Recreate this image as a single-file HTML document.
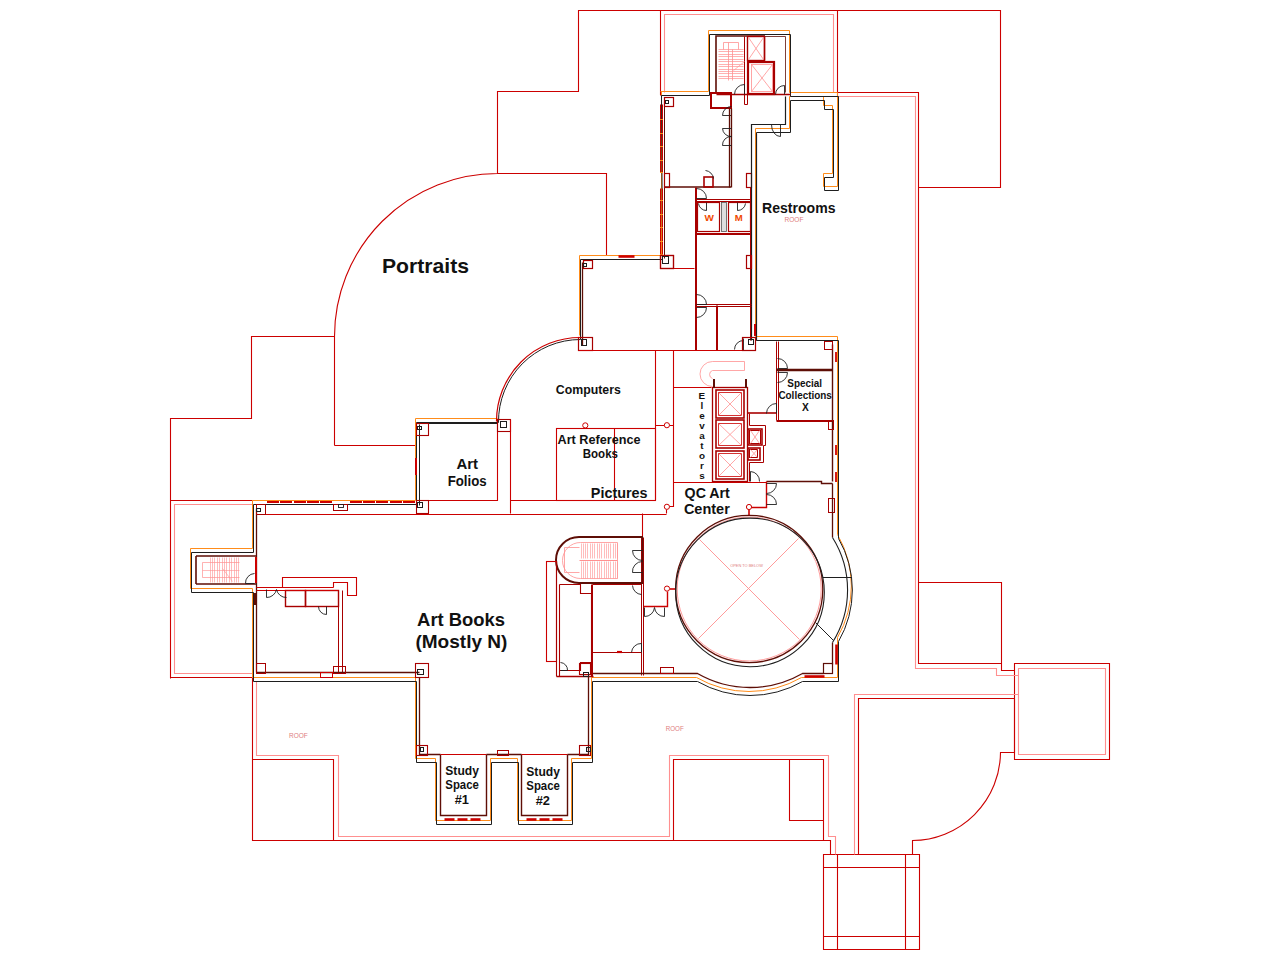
<!DOCTYPE html>
<html><head><meta charset="utf-8"><style>
html,body{margin:0;padding:0;background:#fff;}
svg{display:block;}
text{font-family:"Liberation Sans",sans-serif;}
</style></head><body>
<svg width="1280" height="960" viewBox="0 0 1280 960" shape-rendering="geometricPrecision">
<rect width="1280" height="960" fill="#fff"/>
<path d="M 170.5,678.5 V 418.5 H 251.5 V 336.5 H 334.5" stroke="#cc0000" stroke-width="1.1" fill="none" />
<path d="M 334.5,445.5 V 336.5 A 163,163 0 0 1 497.5,173.5 V 91.5 H 578.5 V 10.5 H 1000.5 V 187.5 H 918.5 V 663.5 H 1001.5 V 670.5 H 1014.5 V 663.5 H 1109.5 V 759.5 H 1014.5 V 663.5" stroke="#cc0000" stroke-width="1.1" fill="none" />
<path d="M 918.5,582.5 H 1001.5 V 663.5" stroke="#cc0000" stroke-width="1.1" fill="none" />
<path d="M 334.5,445.5 H 415.5" stroke="#cc0000" stroke-width="1.1" fill="none" />
<path d="M 497.5,173.5 H 606.5 V 255.5" stroke="#cc0000" stroke-width="1.1" fill="none" />
<path d="M 660.5,10.5 V 95.5" stroke="#cc0000" stroke-width="1.1" fill="none" />
<path d="M 837.5,10.5 V 96.5" stroke="#cc0000" stroke-width="1.1" fill="none" />
<path d="M 837.5,92.5 H 918.5 V 187.5" stroke="#cc0000" stroke-width="1.1" fill="none" />
<path d="M 170.5,500.5 H 252.5" stroke="#cc0000" stroke-width="1.1" fill="none" />
<path d="M 170.5,677.5 H 252.5" stroke="#cc0000" stroke-width="1.1" fill="none" />
<path d="M 252.5,677.5 V 840.5 H 830.5 V 854.5" stroke="#cc0000" stroke-width="1.1" fill="none" />
<path d="M 252.5,759.5 H 333.5 V 840.5" stroke="#cc0000" stroke-width="1.1" fill="none" />
<path d="M 673.5,840.5 V 759.5 H 823.5 V 840.5" stroke="#cc0000" stroke-width="1.1" fill="none" />
<path d="M 789.5,759.5 V 820.5 H 823.5" stroke="#cc0000" stroke-width="1.1" fill="none" />
<path d="M 1014.5,698.5 V 752.5 H 1000.5 A 88.6,88.6 0 0 1 912.5,840.5 V 854.5" stroke="#cc0000" stroke-width="1.1" fill="none" />
<path d="M 1014.5,698.5 H 858.5 V 854.5" stroke="#cc0000" stroke-width="1.1" fill="none" />
<path d="M 823.5,854.5 H 919.5 V 949.5 H 823.5 Z" stroke="#cc0000" stroke-width="1.1" fill="none" />
<path d="M 837.5,854.5 V 949.5 M 905.5,854.5 V 949.5 M 823.5,867.5 H 919.5 M 823.5,936.5 H 919.5" stroke="#cc0000" stroke-width="1.1" fill="none" />
<path d="M 664.5,92.5 V 14.5 H 833.5 V 92.5" stroke="#ff9090" stroke-width="1.1" fill="none" />
<path d="M 837.5,96.5 H 915.5 V 668.5 H 996.5 V 675.5 H 1018.5 V 668.5 H 1105.5 V 754.5 H 1018.5 V 668.5" stroke="#ff9090" stroke-width="1.1" fill="none" />
<path d="M 854.5,854.5 V 694.5 H 1018.5" stroke="#ff9090" stroke-width="1.1" fill="none" />
<path d="M 252.5,504.5 H 174.5 V 673.5 H 252.5" stroke="#ff9090" stroke-width="1.1" fill="none" />
<path d="M 256.5,681.5 V 755.5 H 338.5 V 836.5 H 669.5 V 755.5 H 828.5 V 836.5 H 835.5 V 854.5" stroke="#ff9090" stroke-width="1.1" fill="none" />
<path d="M 661.5,95.5 H 709.5 V 34.5 H 790.5 V 96.5 H 838.5 V 190.5 H 824.5 V 177.5 H 833.5 V 109.5 H 824.5 V 100.5 H 790.5 V 132.5 H 756.5 V 340.5 H 838.5 V 538.5 A 102.6,102.6 0 0 1 838.5,641.5 V 681.5 H 802.5 A 105.4,105.4 0 0 1 697.5,681.5 H 592.5 V 762.5 H 572.5 V 824.5 H 518.5 V 762.5 H 491.5 V 824.5 H 436.5 V 762.5 H 416.5 V 681.5 H 253.5 V 592.5 H 191.5 V 552.5 H 253.5 V 504.5 H 416.5 V 422.5 H 498.5 M 580.5,339.5 V 259.5 H 662.5 V 95.5" stroke="#ff8c1a" stroke-width="1.0" fill="none" transform="translate(-1,-4)"/>
<path d="M 661.5,95.5 H 709.5 V 34.5 H 790.5 V 96.5 H 838.5 V 190.5 H 824.5 V 177.5 H 833.5 V 109.5 H 824.5 V 100.5 H 790.5 V 132.5 H 756.5 V 340.5 H 838.5 V 538.5 A 102.6,102.6 0 0 1 838.5,641.5 V 681.5 H 802.5 A 105.4,105.4 0 0 1 697.5,681.5 H 592.5 V 762.5 H 572.5 V 824.5 H 518.5 V 762.5 H 491.5 V 824.5 H 436.5 V 762.5 H 416.5 V 681.5 H 253.5 V 592.5 H 191.5 V 552.5 H 253.5 V 504.5 H 416.5 V 422.5 H 498.5 A 82,82 0 0 1 580.5,339.5 V 259.5 H 662.5 Z" stroke="#1e1e1e" stroke-width="1.0" fill="none" />
<path d="M 716,92 V 36 H 765" stroke="#5e0e06" stroke-width="1.6" fill="none" />
<path d="M 764.5,36.5 H 785.5 V 92.5" stroke="#5e0e06" stroke-width="0.8" fill="none" />
<path d="M 744.5,36.5 V 104.5 M 747.5,36.5 V 104.5 M 744.5,104.5 H 747.5" stroke="#a80000" stroke-width="1.0" fill="none" />
<rect x="747.5" y="36.5" width="17" height="24" stroke="#a80000" stroke-width="1.4" fill="none"/>
<path d="M 748.5,37.5 L 763.5,59.5 M 763.5,37.5 L 748.5,59.5" stroke="#ff9090" stroke-width="0.8" fill="none" />
<rect x="748" y="62" width="26" height="32" stroke="#a80000" stroke-width="2.2" fill="none"/>
<rect x="751.5" y="64.5" width="21" height="27" stroke="#ff9090" stroke-width="0.8" fill="none"/>
<path d="M 751.5,64.5 L 772.5,91.5 M 772.5,64.5 L 751.5,91.5" stroke="#ff9090" stroke-width="0.8" fill="none" />
<path d="M 764.5,36.5 V 60.5" stroke="#a80000" stroke-width="1.4" fill="none" />
<path d="M 718.5,49.5 H 743.5" stroke="#ff9090" stroke-width="0.7" fill="none" />
<path d="M 718.5,51.5 H 743.5" stroke="#ff9090" stroke-width="0.7" fill="none" />
<path d="M 718.5,54.5 H 743.5" stroke="#ff9090" stroke-width="0.7" fill="none" />
<path d="M 718.5,56.5 H 743.5" stroke="#ff9090" stroke-width="0.7" fill="none" />
<path d="M 718.5,59.5 H 743.5" stroke="#ff9090" stroke-width="0.7" fill="none" />
<path d="M 718.5,61.5 H 743.5" stroke="#ff9090" stroke-width="0.7" fill="none" />
<path d="M 718.5,64.5 H 743.5" stroke="#ff9090" stroke-width="0.7" fill="none" />
<path d="M 718.5,66.5 H 743.5" stroke="#ff9090" stroke-width="0.7" fill="none" />
<path d="M 718.5,69.5 H 743.5" stroke="#ff9090" stroke-width="0.7" fill="none" />
<path d="M 718.5,71.5 H 743.5" stroke="#ff9090" stroke-width="0.7" fill="none" />
<path d="M 718.5,73.5 H 743.5" stroke="#ff9090" stroke-width="0.7" fill="none" />
<path d="M 718.5,76.5 H 743.5" stroke="#ff9090" stroke-width="0.7" fill="none" />
<path d="M 718.5,78.5 H 743.5" stroke="#ff9090" stroke-width="0.7" fill="none" />
<path d="M 723.5,49.5 V 42.5 H 738.5 V 49.5" stroke="#ff9090" stroke-width="0.8" fill="none" />
<path d="M 728.5,42.5 V 80.5 M 732.5,49.5 V 80.5" stroke="#ff9090" stroke-width="0.8" fill="none" />
<path d="M 733.5,70.5 L 744.5,61.5" stroke="#ff9090" stroke-width="0.7" fill="none" />
<path d="M 716.5,94.5 H 790.5" stroke="#a80000" stroke-width="1.4" fill="none" />
<rect x="711" y="93" width="20" height="15" stroke="#a80000" stroke-width="2.0" fill="none"/>
<path d="M 744.5,84.5 V 94.5 M 744.5,84.5 A 10,10 0 0 0 734.5,94.5" stroke="#1e1e1e" stroke-width="0.9" fill="none" />
<path d="M 784.5,85.5 V 94.5 M 784.5,85.5 A 9,9 0 0 0 775.5,94.5" stroke="#1e1e1e" stroke-width="0.9" fill="none" />
<path d="M 731.5,106.5 A 9,9 0 0 0 722.5,115.5 H 731.5" stroke="#1e1e1e" stroke-width="0.9" fill="none" />
<path d="M 664.5,100.5 V 258.5" stroke="#5e0e06" stroke-width="1.0" fill="none" />
<path d="M 660.5,104.5 V 172.5 M 662.5,104.5 V 172.5" stroke="#cc0000" stroke-width="1.0" fill="none" />
<path d="M 660.5,188.5 V 254.5 M 662.5,188.5 V 254.5" stroke="#cc0000" stroke-width="1.0" fill="none" />
<rect x="660" y="119" width="3" height="1" fill="#ff8c1a"/>
<rect x="660" y="133" width="3" height="1" fill="#ff8c1a"/>
<rect x="660" y="146" width="3" height="1" fill="#ff8c1a"/>
<rect x="660" y="160" width="3" height="1" fill="#ff8c1a"/>
<rect x="660" y="172" width="3" height="1" fill="#ff8c1a"/>
<rect x="660" y="200" width="3" height="1" fill="#ff8c1a"/>
<rect x="660" y="214" width="3" height="1" fill="#ff8c1a"/>
<rect x="660" y="227" width="3" height="1" fill="#ff8c1a"/>
<rect x="660" y="241" width="3" height="1" fill="#ff8c1a"/>
<rect x="660" y="254" width="3" height="1" fill="#ff8c1a"/>
<path d="M 731.5,108.5 V 187.5 M 729.5,108.5 V 187.5" stroke="#5e0e06" stroke-width="1.3" fill="none" />
<path d="M 665,187 H 731" stroke="#5e0e06" stroke-width="1.6" fill="none" />
<path d="M 695.5,187.5 V 350.5 M 696.5,187.5 V 350.5" stroke="#a80000" stroke-width="1.0" fill="none" />
<rect x="664.5" y="97.5" width="9" height="9" stroke="#a80000" stroke-width="1.2" fill="none"/>
<rect x="664.5" y="173.5" width="5" height="14" stroke="#a80000" stroke-width="1.2" fill="none"/>
<rect x="704" y="177" width="9" height="10" stroke="#a80000" stroke-width="1.6" fill="none"/>
<rect x="746.5" y="173.5" width="5" height="14" stroke="#a80000" stroke-width="1.2" fill="none"/>
<path d="M 785.5,96.5 V 124.5 H 751.5 V 340.5" stroke="#1e1e1e" stroke-width="1.2" fill="none" />
<path d="M 750.5,187.5 V 340.5" stroke="#a80000" stroke-width="1.0" fill="none" />
<path d="M 756.5,133.5 V 340.5" stroke="#1e1e1e" stroke-width="1.2" fill="none" />
<path d="M 731.5,128.5 H 722.5 A 8.5,8.5 0 0 0 731.5,136.5 M 731.5,145.5 H 722.5 A 8.5,8.5 0 0 1 731.5,136.5" stroke="#1e1e1e" stroke-width="0.9" fill="none" />
<path d="M 705.5,170.5 A 9,9 0 0 1 713.5,178.5" stroke="#1e1e1e" stroke-width="0.9" fill="none" />
<path d="M 696.5,188.5 A 10,10 0 0 1 706.5,198.5 H 696.5" stroke="#1e1e1e" stroke-width="0.9" fill="none" />
<path d="M 780.5,124.5 V 136.5 M 771.5,124.5 A 9,11.6 0 0 0 780.5,136.5" stroke="#1e1e1e" stroke-width="0.9" fill="none" />
<path d="M 695.5,199.5 H 750.5 M 695.5,201.5 H 750.5" stroke="#a80000" stroke-width="1.0" fill="none" />
<rect x="697.5" y="202.5" width="22" height="29" stroke="#a80000" stroke-width="1.2" fill="none"/>
<rect x="721.5" y="202.5" width="5" height="29" stroke="#555" stroke-width="0.8" fill="#ddd"/>
<rect x="728.5" y="202.5" width="22" height="29" stroke="#a80000" stroke-width="1.2" fill="none"/>
<path d="M 695.5,233.5 H 750.5 M 695.5,234.5 H 750.5" stroke="#a80000" stroke-width="1.0" fill="none" />
<path d="M 698.5,203.5 A 8,8 0 0 0 706.5,210.5 V 202.5" stroke="#1e1e1e" stroke-width="0.9" fill="none" />
<path d="M 745.5,203.5 A 8,8 0 0 1 737.5,210.5 V 202.5" stroke="#1e1e1e" stroke-width="0.9" fill="none" />
<text x="709.2" y="221.3" font-size="9.6" font-weight="bold" fill="#f04800" textLength="9.4" lengthAdjust="spacingAndGlyphs" text-anchor="middle" >W</text>
<text x="738.8" y="221.3" font-size="9.6" font-weight="bold" fill="#f04800" text-anchor="middle" >M</text>
<rect x="746.5" y="255.5" width="5" height="13" stroke="#a80000" stroke-width="1.2" fill="none"/>
<rect x="660.5" y="255.5" width="13" height="13" stroke="#a80000" stroke-width="1.2" fill="none"/>
<path d="M 673.5,268.5 H 694.5" stroke="#cc0000" stroke-width="1.0" fill="none" />
<path d="M 695.5,304.5 H 751.5 M 695.5,306.5 H 751.5" stroke="#a80000" stroke-width="1.0" fill="none" />
<path d="M 716.5,305.5 V 350.5 M 717.5,305.5 V 350.5" stroke="#a80000" stroke-width="1.0" fill="none" />
<path d="M 696.5,294.5 A 10,10 0 0 1 706.5,304.5 H 696.5 M 696.5,317.5 A 10,10 0 0 0 706.5,307.5 H 696.5" stroke="#1e1e1e" stroke-width="0.9" fill="none" />
<path d="M 743.5,340.5 A 9,9 0 0 0 734.5,349.5 M 743.5,338.5 V 350.5" stroke="#1e1e1e" stroke-width="0.9" fill="none" />
<path d="M 755,324 V 336" stroke="#cc0000" stroke-width="2.0" fill="none" />
<path d="M 582.5,262.5 V 345.5" stroke="#5e0e06" stroke-width="1.3" fill="none" />
<rect x="583.5" y="260.5" width="9" height="8" stroke="#a80000" stroke-width="1.2" fill="none"/>
<rect x="578.5" y="337.5" width="14" height="13" stroke="#a80000" stroke-width="1.2" fill="none"/>
<rect x="660.5" y="255.5" width="13" height="13" stroke="#a80000" stroke-width="1.2" fill="none"/>
<path d="M 618.5,256.5 H 634.5" stroke="#cc0000" stroke-width="2.6" fill="none" />
<path d="M 578.5,350.5 H 755.5" stroke="#cc0000" stroke-width="1.1" fill="none" />
<rect x="742.5" y="337.5" width="13" height="13" stroke="#a80000" stroke-width="1.2" fill="none"/>
<path d="M 496.5,421.5 A 83.7,83.7 0 0 1 580.5,337.5" stroke="#cc0000" stroke-width="1.2" fill="none" />
<path d="M 419.5,424.5 V 505.5" stroke="#1e1e1e" stroke-width="1.0" fill="none" />
<path d="M 417.5,423.5 H 497.5" stroke="#1e1e1e" stroke-width="1.0" fill="none" />
<path d="M 497.5,423.5 V 500.5 H 428.5" stroke="#cc0000" stroke-width="1.1" fill="none" />
<rect x="416.5" y="423.5" width="12" height="12" stroke="#a80000" stroke-width="1.1" fill="none"/>
<rect x="416.5" y="500.5" width="12" height="13" stroke="#a80000" stroke-width="1.1" fill="none"/>
<rect x="497.5" y="419.5" width="13" height="12" stroke="#a80000" stroke-width="1.1" fill="none"/>
<path d="M 510.5,419.5 V 513.5" stroke="#cc0000" stroke-width="1.1" fill="none" />
<path d="M 256.5,514.5 H 666.5" stroke="#cc0000" stroke-width="1.1" fill="none" />
<path d="M 642.5,513.5 V 537.5" stroke="#cc0000" stroke-width="1.1" fill="none" />
<path d="M 655.5,350.5 V 500.5 M 673.5,350.5 V 506.5 H 669.5" stroke="#cc0000" stroke-width="1.1" fill="none" />
<path d="M 655.5,425.5 H 664.5 M 669.5,425.5 H 673.5" stroke="#cc0000" stroke-width="1.1" fill="none" />
<circle cx="666.9" cy="425.2" r="2.6" stroke="#cc0000" stroke-width="1" fill="#fff"/>
<circle cx="585.3" cy="425.4" r="2.6" stroke="#cc0000" stroke-width="1" fill="#fff"/>
<path d="M 666.5,509.5 V 513.5" stroke="#cc0000" stroke-width="1.1" fill="none" />
<circle cx="666.9" cy="506.8" r="2.6" stroke="#cc0000" stroke-width="1" fill="#fff"/>
<rect x="556.5" y="428.5" width="99" height="72" stroke="#cc0000" stroke-width="1.1" fill="none"/>
<path d="M 614.5,428.5 V 500.5" stroke="#cc0000" stroke-width="1.1" fill="none" />
<path d="M 510.5,500.5 H 556.5" stroke="#cc0000" stroke-width="1.1" fill="none" />
<path d="M 416,458 V 475" stroke="#cc0000" stroke-width="2.0" fill="none" />
<path d="M 673.5,387.5 H 711.5" stroke="#cc0000" stroke-width="1.1" fill="none" />
<path d="M 673.5,482.5 H 766.5" stroke="#cc0000" stroke-width="1.1" fill="none" />
<rect x="712.5" y="387.5" width="35" height="94" stroke="#a80000" stroke-width="1.3" fill="none"/>
<path d="M 714,379 V 388 M 746,379 V 388" stroke="#5e0e06" stroke-width="2.0" fill="none" />
<rect x="716" y="390" width="28" height="28" stroke="#a80000" stroke-width="1.6" fill="none"/>
<rect x="718.5" y="392.5" width="23" height="23" stroke="#cc0000" stroke-width="0.8" fill="none"/>
<path d="M 718.5,392.5 L 741.5,415.5 M 741.5,392.5 L 718.5,415.5" stroke="#ff9090" stroke-width="0.8" fill="none" />
<rect x="716" y="420" width="28" height="28" stroke="#a80000" stroke-width="1.6" fill="none"/>
<rect x="718.5" y="423.5" width="23" height="22" stroke="#cc0000" stroke-width="0.8" fill="none"/>
<path d="M 718.5,423.5 L 741.5,445.5 M 741.5,423.5 L 718.5,445.5" stroke="#ff9090" stroke-width="0.8" fill="none" />
<rect x="716" y="451" width="28" height="28" stroke="#a80000" stroke-width="1.6" fill="none"/>
<rect x="718.5" y="453.5" width="23" height="23" stroke="#cc0000" stroke-width="0.8" fill="none"/>
<path d="M 718.5,453.5 L 741.5,476.5 M 741.5,453.5 L 718.5,476.5" stroke="#ff9090" stroke-width="0.8" fill="none" />
<rect x="748" y="429" width="14" height="16" stroke="#a80000" stroke-width="1.6" fill="none"/>
<rect x="749.5" y="430.5" width="11" height="13" stroke="#a80000" stroke-width="1.0" fill="none"/>
<path d="M 750.5,430.5 L 759.5,443.5 M 759.5,430.5 L 750.5,443.5" stroke="#ff9090" stroke-width="0.8" fill="none" />
<rect x="748" y="448" width="12" height="12" stroke="#a80000" stroke-width="1.6" fill="none"/>
<rect x="749.5" y="449.5" width="8" height="8" stroke="#a80000" stroke-width="1.0" fill="none"/>
<path d="M 750.5,449.5 L 757.5,457.5 M 757.5,449.5 L 750.5,457.5" stroke="#ff9090" stroke-width="0.8" fill="none" />
<path d="M 748,413 H 776" stroke="#a80000" stroke-width="1.6" fill="none" />
<path d="M 749.5,413.5 V 425.5 H 765.5 V 445.5 H 763.5 V 462.5 H 749.5 V 481.5" stroke="#a80000" stroke-width="1.0" fill="none" />
<path d="M 750.5,471.5 V 481.5 M 750.5,471.5 A 9.5,9.5 0 0 1 759.5,481.5" stroke="#1e1e1e" stroke-width="0.9" fill="none" />
<path d="M 744.5,361.5 H 712.5 A 12.5,12.5 0 0 0 712.5,386.5" stroke="#ff9090" stroke-width="0.8" fill="none" />
<path d="M 744.5,361.5 V 370.5 H 712.5 A 4.2,4.2 0 0 0 712.5,378.5" stroke="#ff9090" stroke-width="0.8" fill="none" />
<path d="M 776.5,341.5 V 420.5 M 778.5,341.5 V 420.5" stroke="#a80000" stroke-width="1.0" fill="none" />
<path d="M 776.5,369.5 H 832.5 M 776.5,370.5 H 832.5" stroke="#5e0e06" stroke-width="1.3" fill="none" />
<path d="M 776.5,420.5 H 832.5 M 776.5,421.5 H 832.5" stroke="#a80000" stroke-width="1.0" fill="none" />
<path d="M 832.5,344.5 V 481.5" stroke="#5e0e06" stroke-width="1.4" fill="none" />
<path d="M 777.5,358.5 A 10,10 0 0 1 787.5,368.5 H 777.5 M 777.5,382.5 A 10,10 0 0 0 787.5,372.5 H 777.5" stroke="#1e1e1e" stroke-width="0.9" fill="none" />
<path d="M 776.5,403.5 A 10,10 0 0 0 766.5,413.5 M 776.5,403.5 V 413.5" stroke="#1e1e1e" stroke-width="0.9" fill="none" />
<path d="M 766.5,481.5 H 821.5 V 483.5 H 832.5" stroke="#5e0e06" stroke-width="1.4" fill="none" />
<rect x="828.5" y="420.5" width="5" height="9" stroke="#a80000" stroke-width="1.0" fill="none"/>
<path d="M 836,352 V 362" stroke="#cc0000" stroke-width="1.8" fill="none" />
<path d="M 836,445 V 455" stroke="#cc0000" stroke-width="1.8" fill="none" />
<path d="M 836,472 V 482" stroke="#cc0000" stroke-width="1.8" fill="none" />
<rect x="824.5" y="341.5" width="8" height="8" stroke="#a80000" stroke-width="1.0" fill="none"/>
<path d="M 766.5,481.5 V 507.5 H 751.5" stroke="#cc0000" stroke-width="1.4" fill="none" />
<circle cx="749" cy="507" r="2.6" stroke="#cc0000" stroke-width="1" fill="#fff"/>
<path d="M 749,510 V 515" stroke="#cc0000" stroke-width="1.6" fill="none" />
<path d="M 766.5,483.5 H 776.5 A 9.9,9.9 0 0 1 766.5,493.5 M 766.5,504.5 H 776.5 A 9.9,9.9 0 0 0 766.5,494.5" stroke="#1e1e1e" stroke-width="0.9" fill="none" />
<rect x="828.5" y="498.5" width="6" height="14" stroke="#a80000" stroke-width="1.0" fill="none"/>
<path d="M 832.5,483.5 V 537.5 M 832.5,642.5 V 664.5" stroke="#5e0e06" stroke-width="1.3" fill="none" />
<path d="M 641.5,537.5 V 675.5 M 643.5,537.5 V 675.5" stroke="#a80000" stroke-width="1.0" fill="none" />
<path d="M 643.5,606.5 H 667.5 V 591.5" stroke="#cc0000" stroke-width="1.4" fill="none" />
<circle cx="667" cy="588.6" r="2.6" stroke="#cc0000" stroke-width="1" fill="#fff"/>
<path d="M 670,589 H 676" stroke="#cc0000" stroke-width="1.6" fill="none" />
<path d="M 644.5,607.5 V 616.5 A 9.8,9.8 0 0 0 654.5,607.5 M 664.5,607.5 V 616.5 A 9.8,9.8 0 0 1 654.5,607.5" stroke="#1e1e1e" stroke-width="0.9" fill="none" />
<circle cx="749.2" cy="589" r="72" stroke="#ff9090" stroke-width="0.9" fill="none"/>
<circle cx="749.2" cy="589" r="73.6" stroke="#5e0e06" stroke-width="1.3" fill="none"/>
<circle cx="750" cy="592.4" r="74.3" stroke="#1e1e1e" stroke-width="1.1" fill="none"/>
<path d="M 699.5,539.5 L 799.5,639.5 M 798.5,538.5 L 698.5,638.5" stroke="#ff9090" stroke-width="0.9" fill="none" />
<text x="746.5" y="566.5" font-size="3.8" font-weight="normal" fill="#e08080" textLength="32.7" lengthAdjust="spacingAndGlyphs" text-anchor="middle" >OPEN TO BELOW</text>
<path d="M 822.5,577.5 H 851.5" stroke="#1e1e1e" stroke-width="1.0" fill="none" />
<path d="M 815.5,622.5 L 833.5,640.5" stroke="#1e1e1e" stroke-width="1.0" fill="none" />
<path d="M 832.5,537.5 A 99,99 0 0 1 832.5,642.5" stroke="#1e1e1e" stroke-width="1.1" fill="none" />
<path d="M 836.5,644.5 V 664.5" stroke="#cc0000" stroke-width="2.6" fill="none" />
<rect x="823.5" y="663.5" width="9" height="10" stroke="#5e0e06" stroke-width="1.2" fill="none"/>
<path d="M 804.5,676.5 H 824.5" stroke="#cc0000" stroke-width="2.6" fill="none" />
<path d="M 592.5,673.5 H 697.5 A 105.4,105.4 0 0 0 802.5,673.5 H 823.5" stroke="#5e0e06" stroke-width="1.3" fill="none" />
<path d="M 643,537 H 579 A 23,23 0 0 0 579,583 H 643" stroke="#5e0e06" stroke-width="2.0" fill="none" />
<path d="M 617.5,542.5 H 580.5 A 17.6,17.6 0 0 0 580.5,578.5 H 617.5" stroke="#ff9090" stroke-width="0.8" fill="none" />
<path d="M 579.5,547.5 H 564.5 V 572.5 H 579.5" stroke="#ff9090" stroke-width="0.8" fill="none" />
<path d="M 581.5,543.5 V 558.5 M 581.5,561.5 V 578.5" stroke="#ff9090" stroke-width="0.6" fill="none" />
<path d="M 583.5,543.5 V 558.5 M 583.5,561.5 V 578.5" stroke="#ff9090" stroke-width="0.6" fill="none" />
<path d="M 585.5,543.5 V 558.5 M 585.5,561.5 V 578.5" stroke="#ff9090" stroke-width="0.6" fill="none" />
<path d="M 587.5,543.5 V 558.5 M 587.5,561.5 V 578.5" stroke="#ff9090" stroke-width="0.6" fill="none" />
<path d="M 590.5,543.5 V 558.5 M 590.5,561.5 V 578.5" stroke="#ff9090" stroke-width="0.6" fill="none" />
<path d="M 592.5,543.5 V 558.5 M 592.5,561.5 V 578.5" stroke="#ff9090" stroke-width="0.6" fill="none" />
<path d="M 594.5,543.5 V 558.5 M 594.5,561.5 V 578.5" stroke="#ff9090" stroke-width="0.6" fill="none" />
<path d="M 597.5,543.5 V 558.5 M 597.5,561.5 V 578.5" stroke="#ff9090" stroke-width="0.6" fill="none" />
<path d="M 599.5,543.5 V 558.5 M 599.5,561.5 V 578.5" stroke="#ff9090" stroke-width="0.6" fill="none" />
<path d="M 601.5,543.5 V 558.5 M 601.5,561.5 V 578.5" stroke="#ff9090" stroke-width="0.6" fill="none" />
<path d="M 604.5,543.5 V 558.5 M 604.5,561.5 V 578.5" stroke="#ff9090" stroke-width="0.6" fill="none" />
<path d="M 606.5,543.5 V 558.5 M 606.5,561.5 V 578.5" stroke="#ff9090" stroke-width="0.6" fill="none" />
<path d="M 608.5,543.5 V 558.5 M 608.5,561.5 V 578.5" stroke="#ff9090" stroke-width="0.6" fill="none" />
<path d="M 610.5,543.5 V 558.5 M 610.5,561.5 V 578.5" stroke="#ff9090" stroke-width="0.6" fill="none" />
<path d="M 613.5,543.5 V 558.5 M 613.5,561.5 V 578.5" stroke="#ff9090" stroke-width="0.6" fill="none" />
<path d="M 615.5,543.5 V 558.5 M 615.5,561.5 V 578.5" stroke="#ff9090" stroke-width="0.6" fill="none" />
<path d="M 617.5,543.5 V 558.5 M 617.5,561.5 V 578.5" stroke="#ff9090" stroke-width="0.6" fill="none" />
<path d="M 579.5,560.5 H 617.5" stroke="#ff9090" stroke-width="1.2" fill="none" />
<path d="M 617.5,542.5 V 578.5" stroke="#ff9090" stroke-width="0.8" fill="none" />
<path d="M 642.5,537.5 V 583.5" stroke="#5e0e06" stroke-width="1.4" fill="none" />
<rect x="546.5" y="561.5" width="10" height="100" stroke="#cc0000" stroke-width="1.1" fill="none"/>
<path d="M 556.5,561.5 V 676.5 M 559.5,584.5 V 676.5" stroke="#a80000" stroke-width="1.1" fill="none" />
<path d="M 559.5,584.5 H 580.5 V 593.5 H 591.5 V 662.5 H 580.5 V 670.5 H 559.5" stroke="#a80000" stroke-width="1.1" fill="none" />
<path d="M 591.5,584.5 V 676.5 M 592.5,584.5 V 676.5" stroke="#a80000" stroke-width="1.0" fill="none" />
<path d="M 592.5,584.5 H 641.5 M 592.5,652.5 H 641.5" stroke="#a80000" stroke-width="1.1" fill="none" />
<path d="M 556.5,676.5 H 593.5" stroke="#a80000" stroke-width="1.3" fill="none" />
<path d="M 632.5,550.5 A 10,10 0 0 0 642.5,560.5 M 632.5,550.5 H 642.5 M 632.5,572.5 A 10,10 0 0 1 642.5,561.5 M 632.5,572.5 H 642.5" stroke="#1e1e1e" stroke-width="0.9" fill="none" />
<path d="M 632.5,585.5 A 9.5,9.5 0 0 0 641.5,594.5" stroke="#1e1e1e" stroke-width="0.9" fill="none" />
<path d="M 641.5,643.5 A 9.6,9.6 0 0 0 631.5,652.5 M 641.5,643.5 V 652.5" stroke="#1e1e1e" stroke-width="0.9" fill="none" />
<path d="M 560.5,662.5 A 7.5,7.5 0 0 1 567.5,670.5 H 560.5" stroke="#1e1e1e" stroke-width="0.9" fill="none" />
<path d="M 617,652 H 622" stroke="#cc0000" stroke-width="2.2" fill="none" />
<path d="M 267,502 H 279" stroke="#cc0000" stroke-width="2.0" fill="none" />
<path d="M 280,502 H 292" stroke="#cc0000" stroke-width="2.0" fill="none" />
<path d="M 294,502 H 306" stroke="#cc0000" stroke-width="2.0" fill="none" />
<path d="M 307,502 H 319" stroke="#cc0000" stroke-width="2.0" fill="none" />
<path d="M 320,502 H 332" stroke="#cc0000" stroke-width="2.0" fill="none" />
<path d="M 350,502 H 362" stroke="#cc0000" stroke-width="2.0" fill="none" />
<path d="M 363,502 H 375" stroke="#cc0000" stroke-width="2.0" fill="none" />
<path d="M 376,502 H 388" stroke="#cc0000" stroke-width="2.0" fill="none" />
<path d="M 390,502 H 402" stroke="#cc0000" stroke-width="2.0" fill="none" />
<path d="M 403,502 H 415" stroke="#cc0000" stroke-width="2.0" fill="none" />
<rect x="333.5" y="504.5" width="14" height="6" stroke="#a80000" stroke-width="1.0" fill="none"/>
<rect x="338.5" y="504.5" width="5" height="3" stroke="#1e1e1e" stroke-width="0.9" fill="none"/>
<path d="M 256.5,508.5 V 672.5" stroke="#5e0e06" stroke-width="1.3" fill="none" />
<rect x="256.5" y="504.5" width="9" height="10" stroke="#a80000" stroke-width="1.0" fill="none"/>
<path d="M 196,556 H 256 M 196,584 H 256 M 196,556 V 584" stroke="#5e0e06" stroke-width="1.6" fill="none" />
<path d="M 256,557 V 583" stroke="#cc0000" stroke-width="2.0" fill="none" />
<path d="M 210.5,557.5 V 582.5" stroke="#ff9090" stroke-width="0.6" fill="none" />
<path d="M 212.5,557.5 V 582.5" stroke="#ff9090" stroke-width="0.6" fill="none" />
<path d="M 214.5,557.5 V 582.5" stroke="#ff9090" stroke-width="0.6" fill="none" />
<path d="M 217.5,557.5 V 582.5" stroke="#ff9090" stroke-width="0.6" fill="none" />
<path d="M 219.5,557.5 V 582.5" stroke="#ff9090" stroke-width="0.6" fill="none" />
<path d="M 222.5,557.5 V 582.5" stroke="#ff9090" stroke-width="0.6" fill="none" />
<path d="M 224.5,557.5 V 582.5" stroke="#ff9090" stroke-width="0.6" fill="none" />
<path d="M 226.5,557.5 V 582.5" stroke="#ff9090" stroke-width="0.6" fill="none" />
<path d="M 229.5,557.5 V 582.5" stroke="#ff9090" stroke-width="0.6" fill="none" />
<path d="M 231.5,557.5 V 582.5" stroke="#ff9090" stroke-width="0.6" fill="none" />
<path d="M 234.5,557.5 V 582.5" stroke="#ff9090" stroke-width="0.6" fill="none" />
<path d="M 236.5,557.5 V 582.5" stroke="#ff9090" stroke-width="0.6" fill="none" />
<path d="M 238.5,557.5 V 582.5" stroke="#ff9090" stroke-width="0.6" fill="none" />
<path d="M 202.5,562.5 H 239.5 M 202.5,577.5 H 239.5 M 202.5,562.5 V 577.5" stroke="#ff9090" stroke-width="0.7" fill="none" />
<path d="M 222.5,568.5 L 232.5,581.5 M 202.5,570.5 H 239.5" stroke="#ff9090" stroke-width="0.6" fill="none" />
<path d="M 254.5,573.5 A 9.5,9.5 0 0 0 245.5,583.5 H 254.5" stroke="#1e1e1e" stroke-width="0.9" fill="none" />
<path d="M 255,593 V 605" stroke="#5e0e06" stroke-width="2.2" fill="none" />
<path d="M 282.5,587.5 V 577.5 H 356.5 V 595.5 H 347.5 V 582.5 H 333.5 V 587.5" stroke="#cc0000" stroke-width="1.1" fill="none" />
<rect x="285.5" y="590.5" width="20" height="16" stroke="#a80000" stroke-width="1.4" fill="none"/>
<rect x="305.5" y="590.5" width="33" height="16" stroke="#a80000" stroke-width="1.4" fill="none"/>
<path d="M 256.5,587.5 H 333.5 M 256.5,590.5 H 338.5" stroke="#cc0000" stroke-width="1.0" fill="none" />
<path d="M 338.5,590.5 V 672.5 M 342.5,590.5 V 672.5" stroke="#a80000" stroke-width="1.0" fill="none" />
<path d="M 266.5,589.5 V 597.5 A 10,10 0 0 0 276.5,589.5 M 286.5,597.5 A 10,10 0 0 1 276.5,589.5" stroke="#1e1e1e" stroke-width="0.9" fill="none" />
<path d="M 318.5,606.5 A 8,8 0 0 0 326.5,614.5 V 606.5" stroke="#1e1e1e" stroke-width="0.9" fill="none" />
<path d="M 256.5,672.5 H 419.5" stroke="#5e0e06" stroke-width="1.3" fill="none" />
<rect x="320.5" y="672.5" width="12" height="5" stroke="#cc0000" stroke-width="1.0" fill="none"/>
<rect x="256.5" y="663.5" width="9" height="10" stroke="#a80000" stroke-width="1.0" fill="none"/>
<rect x="333.5" y="666.5" width="12" height="7" stroke="#a80000" stroke-width="1.0" fill="none"/>
<rect x="415.5" y="663.5" width="13" height="14" stroke="#a80000" stroke-width="1.1" fill="none"/>
<rect x="417.5" y="669.5" width="6" height="5" stroke="#1e1e1e" stroke-width="0.9" fill="none"/>
<path d="M 419.5,677.5 V 754.5 H 440.5" stroke="#5e0e06" stroke-width="1.3" fill="none" />
<rect x="416.5" y="745.5" width="11" height="10" stroke="#a80000" stroke-width="1.1" fill="none"/>
<path d="M 440.5,754.5 V 815.5 H 486.5 V 754.5" stroke="#5e0e06" stroke-width="1.4" fill="none" />
<path d="M 521.5,754.5 V 815.5 H 567.5 V 754.5" stroke="#5e0e06" stroke-width="1.4" fill="none" />
<path d="M 440.5,754.5 H 486.5 M 521.5,754.5 H 567.5" stroke="#cc0000" stroke-width="1.1" fill="none" />
<path d="M 486.5,754.5 H 521.5" stroke="#5e0e06" stroke-width="1.3" fill="none" />
<rect x="497.5" y="750.5" width="11" height="5" stroke="#a80000" stroke-width="1.0" fill="none"/>
<path d="M 567.5,754.5 H 588.5 V 676.5" stroke="#5e0e06" stroke-width="1.3" fill="none" />
<rect x="579.5" y="745.5" width="11" height="10" stroke="#a80000" stroke-width="1.1" fill="none"/>
<rect x="579.5" y="663.5" width="11" height="11" stroke="#a80000" stroke-width="1.1" fill="none"/>
<rect x="660.5" y="667.5" width="13" height="6" stroke="#a80000" stroke-width="1.0" fill="none"/>
<path d="M 444.5,819.5 H 454.5" stroke="#cc0000" stroke-width="2.6" fill="none" />
<path d="M 457.5,819.5 H 467.5" stroke="#cc0000" stroke-width="2.6" fill="none" />
<path d="M 470.5,819.5 H 480.5" stroke="#cc0000" stroke-width="2.6" fill="none" />
<path d="M 526.5,819.5 H 536.5" stroke="#cc0000" stroke-width="2.6" fill="none" />
<path d="M 539.5,819.5 H 549.5" stroke="#cc0000" stroke-width="2.6" fill="none" />
<path d="M 552.5,819.5 H 562.5" stroke="#cc0000" stroke-width="2.6" fill="none" />
<rect x="417.5" y="669.5" width="6" height="5" stroke="#1e1e1e" stroke-width="1.0" fill="none"/>
<rect x="417.5" y="502.5" width="5" height="5" stroke="#1e1e1e" stroke-width="1.0" fill="none"/>
<rect x="500.5" y="421.5" width="6" height="6" stroke="#1e1e1e" stroke-width="1.0" fill="none"/>
<rect x="581.5" y="339.5" width="5" height="6" stroke="#1e1e1e" stroke-width="1.0" fill="none"/>
<rect x="662.5" y="256.5" width="6" height="7" stroke="#1e1e1e" stroke-width="1.0" fill="none"/>
<rect x="748.5" y="339.5" width="5" height="5" stroke="#1e1e1e" stroke-width="1.0" fill="none"/>
<rect x="256.5" y="508.5" width="4" height="3" stroke="#1e1e1e" stroke-width="1.0" fill="none"/>
<rect x="417.5" y="426.5" width="4" height="3" stroke="#1e1e1e" stroke-width="1.0" fill="none"/>
<rect x="583.5" y="263.5" width="3" height="3" stroke="#1e1e1e" stroke-width="1.0" fill="none"/>
<rect x="665.5" y="100.5" width="3" height="3" stroke="#1e1e1e" stroke-width="1.0" fill="none"/>
<rect x="583.5" y="672.5" width="5" height="4" stroke="#1e1e1e" stroke-width="1.0" fill="none"/>
<rect x="586.5" y="747.5" width="4" height="4" stroke="#1e1e1e" stroke-width="1.0" fill="none"/>
<rect x="420.5" y="747.5" width="3" height="4" stroke="#1e1e1e" stroke-width="1.0" fill="none"/>
<text x="382" y="272.8" font-size="20.8" font-weight="bold" fill="#111" textLength="87" lengthAdjust="spacingAndGlyphs" >Portraits</text>
<text x="762" y="212.8" font-size="14.8" font-weight="bold" fill="#111" textLength="73.5" lengthAdjust="spacingAndGlyphs" >Restrooms</text>
<text x="784.5" y="221.5" font-size="6.5" font-weight="normal" fill="#e08080" textLength="19" lengthAdjust="spacingAndGlyphs" >ROOF</text>
<text x="555.8" y="394.1" font-size="12.4" font-weight="bold" fill="#111" textLength="65" lengthAdjust="spacingAndGlyphs" >Computers</text>
<text x="557.5" y="444.2" font-size="12.2" font-weight="bold" fill="#111" textLength="83" lengthAdjust="spacingAndGlyphs" >Art Reference</text>
<text x="582.7" y="458" font-size="12.2" font-weight="bold" fill="#111" textLength="35.3" lengthAdjust="spacingAndGlyphs" >Books</text>
<text x="456.4" y="468.9" font-size="14.5" font-weight="bold" fill="#111" textLength="21.6" lengthAdjust="spacingAndGlyphs" >Art</text>
<text x="447.7" y="485.9" font-size="14.5" font-weight="bold" fill="#111" textLength="39" lengthAdjust="spacingAndGlyphs" >Folios</text>
<text x="590.8" y="497.6" font-size="14.9" font-weight="bold" fill="#111" textLength="56.8" lengthAdjust="spacingAndGlyphs" >Pictures</text>
<text x="684.6" y="498.2" font-size="14.5" font-weight="bold" fill="#111" textLength="45.2" lengthAdjust="spacingAndGlyphs" >QC Art</text>
<text x="683.9" y="514.3" font-size="14.5" font-weight="bold" fill="#111" textLength="45.9" lengthAdjust="spacingAndGlyphs" >Center</text>
<text x="787.3" y="386.9" font-size="10.2" font-weight="bold" fill="#111" textLength="34.7" lengthAdjust="spacingAndGlyphs" >Special</text>
<text x="778.4" y="399" font-size="10.2" font-weight="bold" fill="#111" textLength="53.5" lengthAdjust="spacingAndGlyphs" >Collections</text>
<text x="805.3" y="410.6" font-size="10.2" font-weight="bold" fill="#111" text-anchor="middle" >X</text>
<text x="417.1" y="625.8" font-size="18.2" font-weight="bold" fill="#111" textLength="88" lengthAdjust="spacingAndGlyphs" >Art Books</text>
<text x="415.4" y="647.8" font-size="18.2" font-weight="bold" fill="#111" textLength="92" lengthAdjust="spacingAndGlyphs" >(Mostly N)</text>
<text x="445.3" y="775.0" font-size="12.8" font-weight="bold" fill="#111" textLength="33.6" lengthAdjust="spacingAndGlyphs" >Study</text>
<text x="445.3" y="789.1" font-size="12.8" font-weight="bold" fill="#111" textLength="33.6" lengthAdjust="spacingAndGlyphs" >Space</text>
<text x="461.8" y="803.8" font-size="12.8" font-weight="bold" fill="#111" text-anchor="middle" >#1</text>
<text x="526.3" y="775.9" font-size="12.8" font-weight="bold" fill="#111" textLength="33.6" lengthAdjust="spacingAndGlyphs" >Study</text>
<text x="526.3" y="790.0" font-size="12.8" font-weight="bold" fill="#111" textLength="33.6" lengthAdjust="spacingAndGlyphs" >Space</text>
<text x="542.8" y="804.6999999999999" font-size="12.8" font-weight="bold" fill="#111" text-anchor="middle" >#2</text>
<text x="289" y="737.5" font-size="6.5" font-weight="normal" fill="#e08080" textLength="18.7" lengthAdjust="spacingAndGlyphs" >ROOF</text>
<text x="665.75" y="730.5" font-size="6.5" font-weight="normal" fill="#e08080" textLength="18" lengthAdjust="spacingAndGlyphs" >ROOF</text>
<text x="701.9" y="398.7" font-size="9.9" font-weight="bold" fill="#111" text-anchor="middle" >E</text>
<text x="701.9" y="408.75" font-size="9.9" font-weight="bold" fill="#111" text-anchor="middle" >l</text>
<text x="701.9" y="418.8" font-size="9.9" font-weight="bold" fill="#111" text-anchor="middle" >e</text>
<text x="701.9" y="428.84999999999997" font-size="9.9" font-weight="bold" fill="#111" text-anchor="middle" >v</text>
<text x="701.9" y="438.9" font-size="9.9" font-weight="bold" fill="#111" text-anchor="middle" >a</text>
<text x="701.9" y="448.95" font-size="9.9" font-weight="bold" fill="#111" text-anchor="middle" >t</text>
<text x="701.9" y="459.0" font-size="9.9" font-weight="bold" fill="#111" text-anchor="middle" >o</text>
<text x="701.9" y="469.05" font-size="9.9" font-weight="bold" fill="#111" text-anchor="middle" >r</text>
<text x="701.9" y="479.1" font-size="9.9" font-weight="bold" fill="#111" text-anchor="middle" >s</text>
</svg></body></html>
